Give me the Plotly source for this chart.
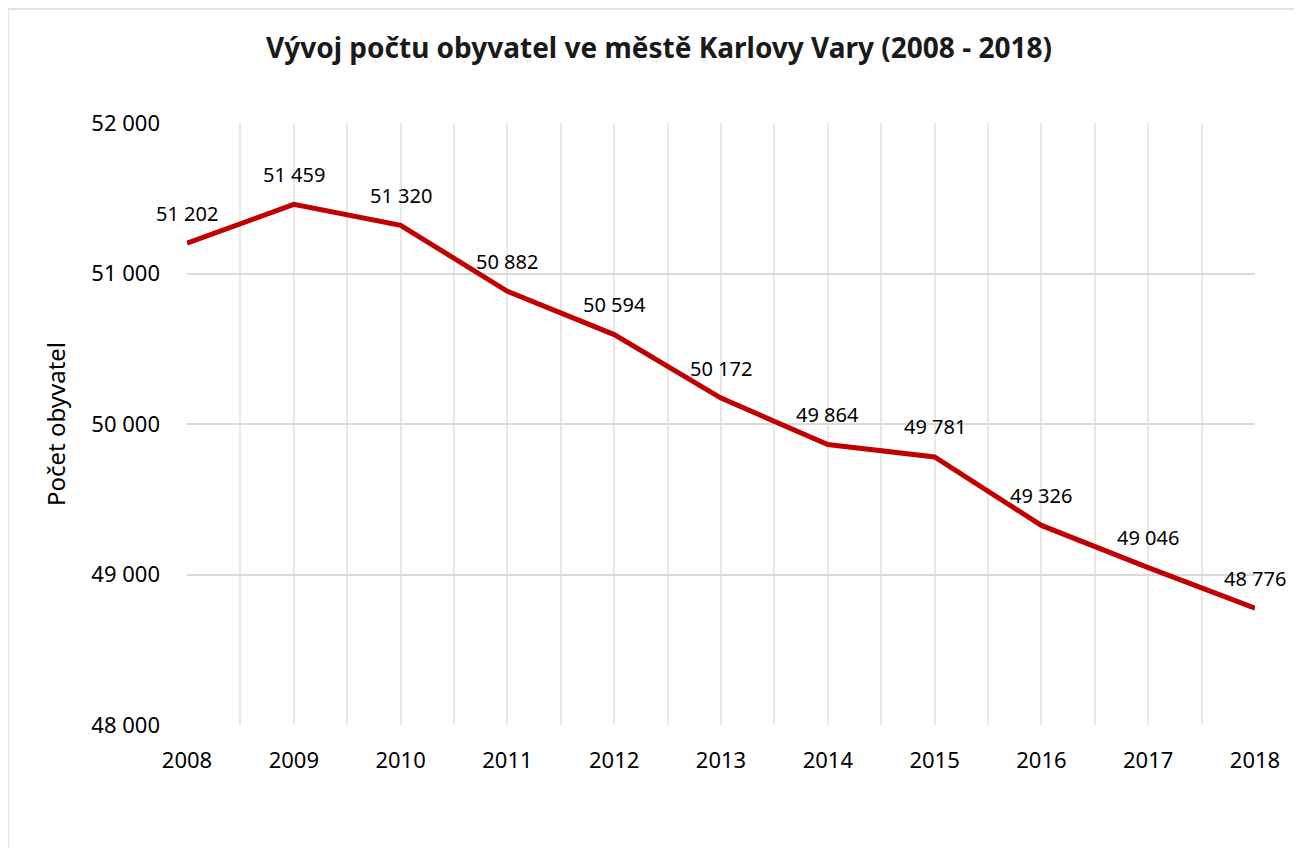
import plotly.graph_objects as go

years = [2008, 2009, 2010, 2011, 2012, 2013, 2014, 2015, 2016, 2017, 2018]
population = [51202, 51459, 51320, 50882, 50594, 50172, 49864, 49781, 49326, 49046, 48776]
labels = ["51 202", "51 459", "51 320", "50 882", "50 594", "50 172", "49 864", "49 781", "49 326", "49 046", "48 776"]
y_ticks = [48000, 49000, 50000, 51000, 52000]
y_tick_labels = ["48 000", "49 000", "50 000", "51 000", "52 000"]

FONT = "Noto Sans"

# page body has an 8px offset; plot area on screen: x 187..1255, y 123..725
L, T = 179, 115
R = 1302 - 1247
B = 848 - 717
PW = 1247 - L
PH = 717 - T

fig = go.Figure()
fig.add_trace(go.Scatter(
    x=years, y=population, mode="lines",
    line=dict(color="#C00000", width=5),
    hoverinfo="skip", showlegend=False,
))

for x, y, t in zip(years, population, labels):
    fig.add_annotation(x=x, y=y, text=t, showarrow=False, yshift=30,
                       font=dict(family=FONT, size=20, color="#000000"))

fig.update_layout(
    width=1302, height=848,
    margin=dict(l=L, r=R, t=T, b=B),
    paper_bgcolor="white", plot_bgcolor="white",
    separators=". ",
    title=dict(text="<b>Vývoj počtu obyvatel ve městě Karlovy Vary (2008 - 2018)</b>",
               x=(659 - 8) / 1302, xanchor="center", y=1 - 40 / 848, yanchor="middle",
               font=dict(family=FONT, size=28, color="#1a1a1a")),
    xaxis=dict(range=[2008, 2018], tickmode="array", tickvals=years,
               ticktext=[str(y) for y in years],
               showgrid=True, gridcolor="#e8e8e8", gridwidth=1.5,
               minor=dict(dtick=0.5, tick0=2008, showgrid=True, gridcolor="#e8e8e8", gridwidth=1.5),
               showline=False, zeroline=False, ticks="", ticklabelstandoff=20,
               tickfont=dict(family=FONT, size=22, color="#000000")),
    yaxis=dict(range=[48000, 52000], tickmode="array", tickvals=y_ticks,
               ticktext=y_tick_labels,
               showgrid=True, gridcolor="#d9d9d9", gridwidth=2,
               zeroline=False, showline=False, ticks="", ticklabelstandoff=26,
               tickfont=dict(family=FONT, size=22, color="#000000"),
               title=dict(text="Počet obyvatel", standoff=18,
                          font=dict(family=FONT, size=24, color="#000000"))),
    shapes=[dict(type="rect", xref="paper", yref="paper",
                 x0=(0 - L) / PW, x1=1.2, y0=-0.4, y1=(717 - 1) / PH,
                 line=dict(color="#d9d9d9", width=1.5), layer="below")],
)

fig.write_html("out.html")
